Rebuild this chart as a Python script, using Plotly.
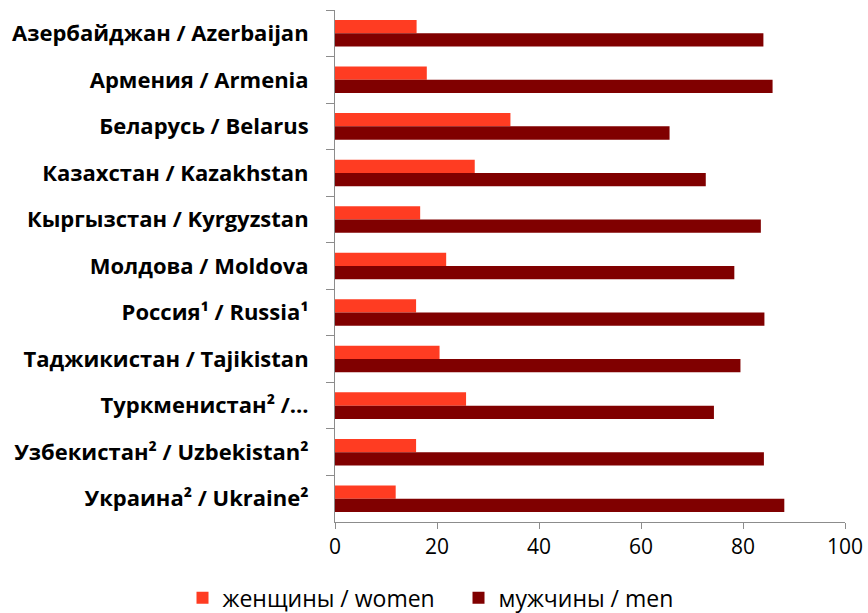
import plotly.graph_objects as go

categories = [
    "Азербайджан / Azerbaijan",
    "Армения / Armenia",
    "Беларусь / Belarus",
    "Казахстан / Kazakhstan",
    "Кыргызстан / Kyrgyzstan",
    "Молдова / Moldova",
    "Россия¹ / Russia¹",
    "Таджикистан / Tajikistan",
    "Туркменистан² /...",
    "Узбекистан² / Uzbekistan²",
    "Украина² / Ukraine²",
]
women = [16.0, 18.0, 34.4, 27.4, 16.7, 21.8, 15.9, 20.5, 25.7, 15.9, 11.9]
men = [84.0, 85.8, 65.6, 72.7, 83.5, 78.3, 84.2, 79.5, 74.3, 84.1, 88.1]
x_ticks = [0, 20, 40, 60, 80, 100]

fig = go.Figure()
fig.add_trace(go.Bar(y=categories, x=women, orientation="h", name="женщины / women",
                     marker=dict(color="#FF3C22", line=dict(width=0))))
fig.add_trace(go.Bar(y=categories, x=men, orientation="h", name="мужчины / men",
                     marker=dict(color="#800000", line=dict(width=0))))

fig.update_layout(
    width=868, height=613,
    margin=dict(l=335, r=23, t=10, b=91, autoexpand=False),
    paper_bgcolor="white", plot_bgcolor="white",
    barmode="group", bargap=0.43, bargroupgap=0,
    font=dict(family="Open Sans", size=21, color="black"),
    showlegend=True,
    legend=dict(orientation="h", x=-0.299, xanchor="left", y=-0.148, yanchor="middle",
                font=dict(size=23), itemwidth=30, traceorder="normal",
                entrywidth=231, entrywidthmode="pixels"),
)
fig.update_xaxes(range=[0, 100], tickvals=x_ticks, showgrid=False, zeroline=False,
                 showline=True, linecolor="#8c8c8c", linewidth=1,
                 ticks="outside", ticklen=6, tickcolor="#8c8c8c",
                 tickfont=dict(size=21), automargin=False)
fig.update_yaxes(autorange="reversed", showgrid=False, showline=True,
                 linecolor="#8c8c8c", linewidth=1, ticks="outside", ticklen=8,
                 tickcolor="#8c8c8c", tickson="boundaries", automargin=False,
                 tickfont=dict(size=22, family="Open Sans", weight="bold"), ticklabelstandoff=21)

fig.write_html("out.html",
               config={"displayModeBar": False},
               post_script="document.body.style.margin='0';document.body.style.overflow='hidden';")
